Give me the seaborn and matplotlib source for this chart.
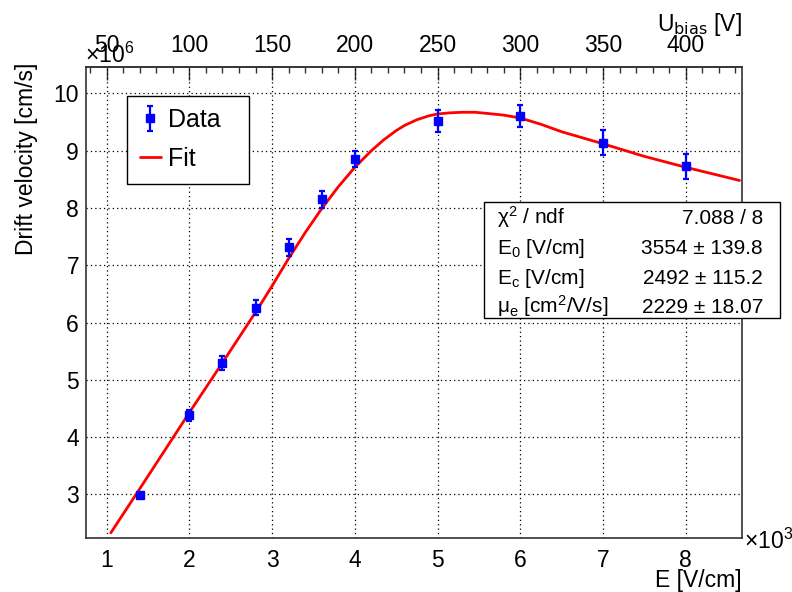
import numpy as np
import pandas as pd
import matplotlib
matplotlib.use('Agg')
import matplotlib.pyplot as plt
import seaborn as sns
from matplotlib.ticker import MultipleLocator, FuncFormatter
from matplotlib.patches import Rectangle

# measured drift velocity vs electric field
field = [1400, 2000, 2400, 2800, 3200, 3600, 4000, 5000, 6000, 7000, 8000]  # V/cm
velocity = [2.99e6, 4.38e6, 5.29e6, 6.26e6, 7.31e6, 8.15e6, 8.85e6, 9.52e6, 9.60e6, 9.14e6, 8.73e6]  # cm/s
velocity_err = [0.04e6, 0.09e6, 0.12e6, 0.13e6, 0.14e6, 0.15e6, 0.14e6, 0.19e6, 0.19e6, 0.22e6, 0.22e6]

# fit curve
fit_field = [1050, 1400, 2000, 2400, 2800, 3000, 3200, 3400, 3600, 3800, 4000, 4200, 4350,
             4500, 4600, 4750, 4900, 5000, 5150, 5300, 5450, 5600, 5800, 6000, 6250, 6500,
             7000, 7500, 8000, 8650]
fit_velocity = [2.33e6, 3.10e6, 4.43e6, 5.30e6, 6.18e6, 6.64e6, 7.12e6, 7.57e6, 7.99e6, 8.37e6,
                8.71e6, 9.00e6, 9.19e6, 9.35e6, 9.44e6, 9.54e6, 9.61e6, 9.64e6, 9.66e6, 9.67e6,
                9.67e6, 9.65e6, 9.62e6, 9.57e6, 9.46e6, 9.33e6, 9.12e6, 8.90e6, 8.71e6, 8.48e6]

# fit statistics box
stat_labels = ['χ$^{2}$ / ndf', 'E$_{0}$ [V/cm]', 'E$_{c}$ [V/cm]', 'μ$_{e}$ [cm$^{2}$/V/s]']
stat_values = ['7.088 / 8', '3554 ± 139.8', '2492 ± 115.2', '2229 ± 18.07']

sns.set_style('white')
plt.rcParams['font.family'] = ['Liberation Sans', 'DejaVu Sans']
plt.rcParams['mathtext.default'] = 'regular'
plt.rcParams['text.color'] = 'black'
plt.rcParams['xtick.labelcolor'] = 'black'
plt.rcParams['ytick.labelcolor'] = 'black'

W, H = 792, 592
fig = plt.figure(figsize=(W / 100, H / 100), dpi=100)
fig.patch.set_facecolor('white')
ax = fig.add_axes([86 / W, 1 - 538 / H, (742 - 86) / W, (538 - 67) / H])

fit_df = pd.DataFrame({'E': fit_field, 'v': fit_velocity})
sns.lineplot(data=fit_df, x='E', y='v', color='#ff0000', linewidth=2, sort=False, ax=ax, label='Fit')
eb = ax.errorbar(field, velocity, yerr=velocity_err, fmt='s', color='#0000ff', ms=6,
                 elinewidth=1.6, capsize=2.5, capthick=1.6, label='Data', zorder=3)

ax.set_xlim(750, 8680)
ax.set_ylim(2.24e6, 10.46e6)
ax.set_xlabel('')
ax.set_ylabel('')

ax.xaxis.set_major_locator(MultipleLocator(1000))
ax.xaxis.set_minor_locator(MultipleLocator(200))
ax.yaxis.set_major_locator(MultipleLocator(1e6))
ax.yaxis.set_minor_locator(MultipleLocator(2e5))
ax.xaxis.set_major_formatter(FuncFormatter(lambda v, p: f'{v / 1000:g}'))
ax.yaxis.set_major_formatter(FuncFormatter(lambda v, p: f'{v / 1e6:g}'))

ax.tick_params(which='both', direction='in', top=False, right=False, color='#333333', width=1,
               labelcolor='black')
ax.tick_params(axis='x', which='major', length=10, labelsize=16.5, pad=8)
ax.tick_params(axis='x', which='minor', length=5)
ax.tick_params(axis='y', which='major', length=13.5, labelsize=16.5, pad=5)
ax.tick_params(axis='y', which='minor', length=7)
ax.grid(True, which='major', color='black', linestyle=(0, (1, 2.5)), linewidth=0.9)
for s in ax.spines.values():
    s.set_color('#333333')
    s.set_linewidth(1.2)

# bias voltage axis on top
sec = ax.secondary_xaxis('top', functions=(lambda e: e * 0.05, lambda u: u / 0.05))
sec.xaxis.set_major_locator(MultipleLocator(50))
sec.xaxis.set_minor_locator(MultipleLocator(10))
sec.xaxis.set_major_formatter(FuncFormatter(lambda v, p: f'{v:g}'))
sec.tick_params(which='both', direction='in', color='#333333', width=1, labelcolor='black')
sec.tick_params(which='major', length=9, labelsize=16.5, pad=7)
sec.tick_params(which='minor', length=4.5)
sec.spines['top'].set_color('#333333')
sec.spines['top'].set_linewidth(1.2)

# axis titles
fig.text(26 / W, 1 - 63 / H, 'Drift velocity [cm/s]', rotation=90, ha='center', va='top', fontsize=16.5)
fig.text(742 / W, 1 - 581 / H, 'E [V/cm]', ha='right', va='center', fontsize=16.5)
fig.text(742 / W, 1 - 31 / H, r'U$_{\mathrm{bias}}$ [V]', ha='right', va='baseline', fontsize=16.5)
fig.text(744 / W, 1 - 541 / H, '×10$^{3}$', ha='left', va='center', fontsize=16.5)
fig.text(85 / W, 1 - 55 / H, '×10$^{6}$', ha='left', va='center', fontsize=16.5)

# legend
handles = [eb, ax.get_lines()[0]]
leg = ax.legend(handles=handles, labels=['Data', 'Fit'], loc='upper left',
                bbox_to_anchor=(127 / W, 1 - 184.3 / H, 122 / W, 88.6 / H), bbox_transform=fig.transFigure,
                mode='expand', fontsize=18, frameon=True, fancybox=False, edgecolor='black',
                framealpha=1, borderpad=0.5, labelspacing=0.6, handlelength=0.85, handletextpad=0.3,
                borderaxespad=0)
leg.get_frame().set_linewidth(1.0)

# fit statistics box
box = Rectangle((484 / W, 1 - 318.3 / H), (780 - 484) / W, (318.3 - 201.7) / H, transform=fig.transFigure,
                facecolor='white', edgecolor='black', linewidth=1.0, zorder=10)
fig.add_artist(box)
baselines = [224, 254.5, 284.5, 313]
for lab, val, yb in zip(stat_labels, stat_values, baselines):
    fig.text(497 / W, 1 - yb / H, lab, ha='left', va='baseline', fontsize=15, zorder=11)
    fig.text(763 / W, 1 - yb / H, val, ha='right', va='baseline', fontsize=15, zorder=11)

fig.savefig('out.png', dpi=100)
